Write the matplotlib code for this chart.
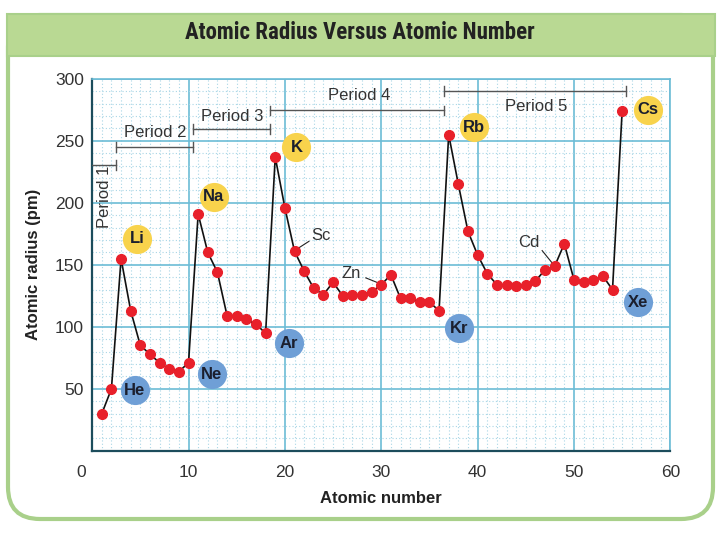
import numpy as np
import matplotlib
matplotlib.use('Agg')
import matplotlib.pyplot as plt
from matplotlib.patches import FancyBboxPatch, Rectangle
import matplotlib.transforms as mtransforms

# atomic radius (pm) for Z = 1 .. 55
radius = [30, 50,
          155, 113, 85, 78, 71, 66, 64, 71,
          191, 160, 144, 109, 109, 106, 102, 95,
          237, 196, 161, 145, 131, 126, 136, 125, 126, 126, 128, 134,
          142, 123, 123, 120, 120, 113,
          255, 215, 177, 158, 143, 134, 134, 133, 134, 137, 146, 149,
          167, 138, 136, 138, 141, 130,
          274]
atomic_number = np.arange(1, len(radius) + 1)

# circled element labels
badge_names = ['Li', 'Na', 'K', 'Rb', 'Cs', 'He', 'Ne', 'Ar', 'Kr', 'Xe']
badge_x = [4.7, 12.6, 21.2, 39.6, 57.7, 4.4, 12.4, 20.4, 38.1, 56.6]
badge_y = [171, 205, 245, 261, 275, 49, 62, 87, 99, 120]
badge_kind = ['alkali'] * 5 + ['noble'] * 5

# period brackets
period_names = ['Period 2', 'Period 3', 'Period 4', 'Period 5']
period_start = [2.5, 10.5, 18.5, 36.5]
period_end = [10.5, 18.5, 36.5, 55.4]
period_y = [245, 259.5, 274.5, 290]
period_text_x = [6.5, 14.5, 27.7, 46.1]
period_text_y = [257, 270, 286.5, 278]

YELLOW = '#f8d34c'
BLUE = '#6f9fd6'
GRID_MAJOR = '#6cbcd6'
GRID_MINOR = '#a9d6e6'
SPINE = '#1c4d5c'

plt.rcParams['font.family'] = ['Liberation Sans', 'DejaVu Sans']

fig = plt.figure(figsize=(7.2, 5.4), dpi=100)

# frame with rounded bottom and green title band
frame = FancyBboxPatch((0.08, 0.21), 7.05, 5.04,
                       boxstyle='round,pad=0,rounding_size=0.32',
                       transform=fig.dpi_scale_trans, facecolor='white',
                       edgecolor='#a9d08a', linewidth=3, zorder=-2)
fig.patches.append(frame)
band = Rectangle((0.065, 4.84), 7.08, 0.42, transform=fig.dpi_scale_trans,
                 facecolor='#b9d993', edgecolor='#a9d08a', linewidth=1.5, zorder=-1)
fig.patches.append(band)
fig.text(0.5, 0.939, 'Atomic Radius Versus Atomic Number', ha='center', va='center',
         fontsize=16.5, fontweight='bold', color='#222222',
         family=['Roboto Condensed', 'Lato', 'DejaVu Sans'])

ax = fig.add_axes([0.128, 0.165, 0.803, 0.689])
ax.set_zorder(1)
ax.set_xlim(0, 60)
ax.set_ylim(0, 300)

ax.set_xticks(np.arange(0, 61, 10))
ax.set_yticks(np.arange(50, 301, 50))
ax.set_xticks(np.arange(0, 61, 1), minor=True)
ax.set_yticks(np.arange(0, 301, 10), minor=True)
ax.grid(which='minor', color=GRID_MINOR, linestyle=(0, (1, 2)), linewidth=0.8, zorder=0)
ax.grid(which='major', color=GRID_MAJOR, linestyle='-', linewidth=1.2, zorder=0)
ax.set_axisbelow(True)
ax.tick_params(which='both', length=0)
ax.tick_params(axis='x', pad=10, labelsize=12.5, labelcolor='#333333')
ax.tick_params(axis='y', pad=6, labelsize=12.5, labelcolor='#333333')
# the "0" label sits a bit left of the axis in the original
zero_label = ax.get_xticklabels()[0]
zero_label.set_transform(zero_label.get_transform() +
                         mtransforms.ScaledTranslation(-0.11, 0, fig.dpi_scale_trans))

for side in ['left', 'bottom']:
    ax.spines[side].set_color(SPINE)
    ax.spines[side].set_linewidth(1.6)
for side in ['top', 'right']:
    ax.spines[side].set_color(GRID_MAJOR)
    ax.spines[side].set_linewidth(1.2)

ax.plot(atomic_number, radius, color='#111111', linewidth=1.2, zorder=3)
ax.plot(atomic_number, radius, 'o', color='#e8202a', markersize=7, zorder=4)

for name, bx, by, kind in zip(badge_names, badge_x, badge_y, badge_kind):
    face = YELLOW if kind == 'alkali' else BLUE
    ax.scatter([bx], [by], s=440, color=face, zorder=5, linewidths=0)
    ax.text(bx, by, name, ha='center', va='center', fontsize=12,
            fontweight='bold', color='#1b1f2e', zorder=6)

# period brackets
bracket_col = '#555555'
for name, x0, x1, y, tx, ty in zip(period_names, period_start, period_end,
                                   period_y, period_text_x, period_text_y):
    ax.plot([x0, x1], [y, y], color=bracket_col, linewidth=1, zorder=3)
    ax.plot([x0, x0], [y - 4, y + 4], color=bracket_col, linewidth=1, zorder=3)
    ax.plot([x1, x1], [y - 4, y + 4], color=bracket_col, linewidth=1, zorder=3)
    ax.text(tx, ty, name, ha='center', va='center', fontsize=12, color='#333333')

ax.plot([0, 2.5], [230.5, 230.5], color=bracket_col, linewidth=1, zorder=3)
ax.plot([2.5, 2.5], [226.5, 234.5], color=bracket_col, linewidth=1, zorder=3)
ax.text(1.3, 205, 'Period 1', rotation=90, ha='center', va='center',
        fontsize=12, color='#333333')

# element call-outs
ax.text(22.7, 174, 'Sc', ha='left', va='center', fontsize=12, color='#333333')
ax.plot([21.1, 22.5], [162, 169], color='#222222', linewidth=0.8, zorder=3)
ax.text(25.9, 143, 'Zn', ha='left', va='center', fontsize=12, color='#333333')
ax.plot([28.4, 30], [139.5, 134.5], color='#222222', linewidth=0.8, zorder=3)
ax.text(44.2, 168, 'Cd', ha='left', va='center', fontsize=12, color='#333333')
ax.plot([46.7, 48], [161.5, 149], color='#222222', linewidth=0.8, zorder=3)

ax.set_xlabel('Atomic number', fontsize=12, fontweight='bold', color='#222222', labelpad=8)
ax.set_ylabel('Atomic radius (pm)', fontsize=12, fontweight='bold', color='#222222', labelpad=10)

fig.savefig('out.png', dpi=100)
